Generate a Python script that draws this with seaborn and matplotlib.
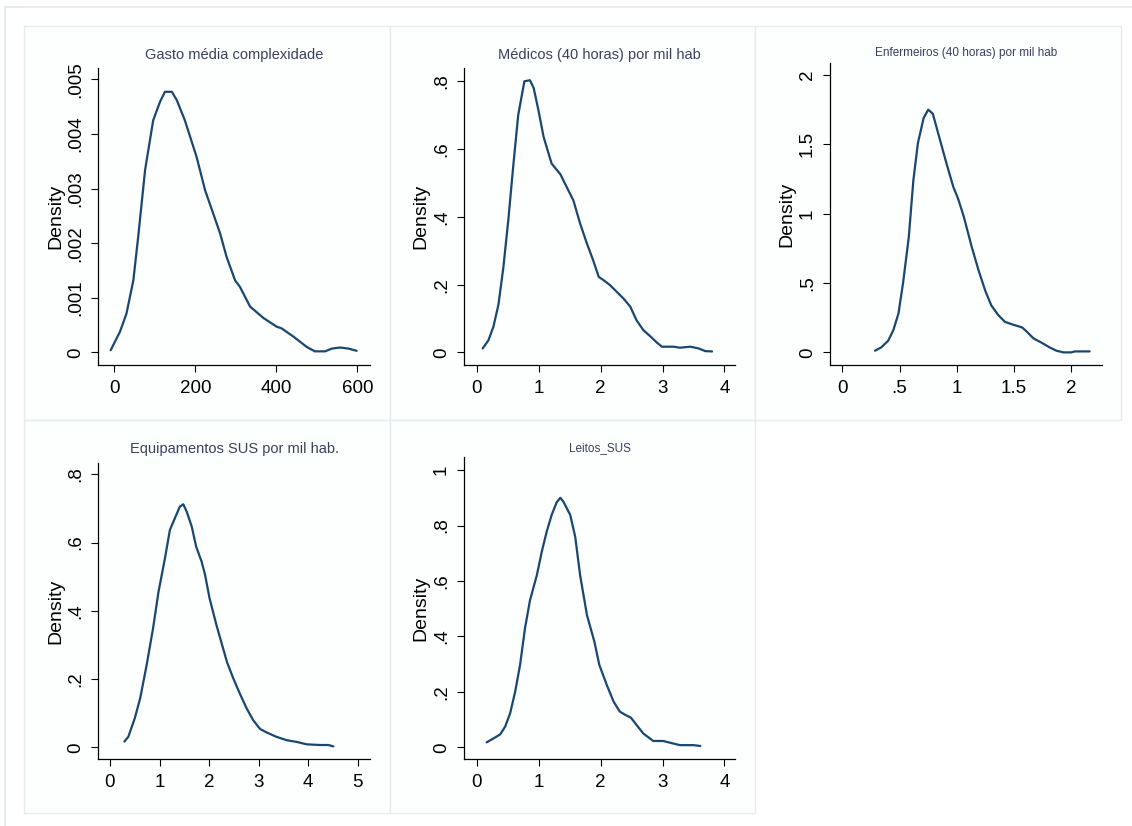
import numpy as np
import pandas as pd
import matplotlib
matplotlib.use("Agg")
import matplotlib.pyplot as plt
from matplotlib.patches import Rectangle
from matplotlib.lines import Line2D
import seaborn as sns

sns.set_theme(style="white")
plt.rcParams["font.family"] = ["Liberation Sans", "DejaVu Sans"]

# Kernel density estimates (x, density) for each indicator
gasto_x = [-9, 14, 30, 47, 59, 76, 96, 113, 125, 142, 154, 174, 203, 224, 261, 277,
           298, 310, 335, 368, 401, 413, 442, 475, 495, 520, 537, 557, 578, 598]
gasto_y = [0.00004, 0.00038, 0.00071, 0.00132, 0.00212, 0.00334, 0.00425, 0.00459,
           0.00477, 0.00477, 0.00462, 0.00425, 0.00358, 0.00297, 0.00218, 0.00175,
           0.00132, 0.00120, 0.00084, 0.00063, 0.00047, 0.00044, 0.00029, 0.00010,
           0.00002, 0.00002, 0.00007, 0.00009, 0.00007, 0.00003]

medicos_x = [0.097, 0.19, 0.27, 0.35, 0.43, 0.51, 0.59, 0.67, 0.72, 0.77, 0.86, 0.92,
             0.996, 1.08, 1.16, 1.21, 1.35, 1.45, 1.56, 1.67, 1.78, 1.88, 1.97, 2.05,
             2.15, 2.26, 2.37, 2.48, 2.58, 2.69, 2.80, 2.91, 2.99, 3.18, 3.28, 3.45,
             3.58, 3.69, 3.80]
medicos_y = [0.012, 0.036, 0.076, 0.14, 0.25, 0.39, 0.55, 0.70, 0.75, 0.80, 0.803, 0.78,
             0.715, 0.636, 0.587, 0.557, 0.526, 0.489, 0.449, 0.380, 0.321, 0.272, 0.223,
             0.213, 0.199, 0.179, 0.159, 0.135, 0.095, 0.066, 0.048, 0.029, 0.017, 0.017,
             0.014, 0.017, 0.012, 0.004, 0.003]

enferm_x = [0.285, 0.34, 0.40, 0.445, 0.49, 0.53, 0.58, 0.62, 0.66, 0.71, 0.75, 0.79,
            0.82, 0.87, 0.91, 0.97, 1.01, 1.06, 1.13, 1.19, 1.25, 1.30, 1.36, 1.42,
            1.49, 1.57, 1.61, 1.67, 1.74, 1.81, 1.87, 1.93, 2.00, 2.03, 2.16]
enferm_y = [0.012, 0.036, 0.084, 0.16, 0.28, 0.50, 0.83, 1.24, 1.51, 1.69, 1.75, 1.72,
            1.63, 1.48, 1.36, 1.19, 1.11, 0.98, 0.76, 0.59, 0.44, 0.34, 0.27, 0.22,
            0.20, 0.18, 0.15, 0.10, 0.07, 0.036, 0.012, 0.0, 0.0, 0.007, 0.007]

equip_x = [0.29, 0.37, 0.50, 0.61, 0.74, 0.87, 0.98, 1.11, 1.21, 1.31, 1.41, 1.48,
           1.55, 1.65, 1.74, 1.85, 1.92, 2.01, 2.15, 2.36, 2.49, 2.62, 2.76, 2.89,
           3.03, 3.16, 3.36, 3.57, 3.77, 3.97, 4.24, 4.41, 4.51]
equip_y = [0.017, 0.031, 0.085, 0.144, 0.241, 0.349, 0.456, 0.554, 0.637, 0.671, 0.705,
           0.712, 0.690, 0.647, 0.588, 0.544, 0.505, 0.437, 0.358, 0.251, 0.202, 0.158,
           0.114, 0.080, 0.054, 0.044, 0.031, 0.021, 0.016, 0.009, 0.007, 0.007, 0.003]

leitos_x = [0.16, 0.27, 0.38, 0.46, 0.54, 0.62, 0.70, 0.78, 0.86, 0.97, 1.05, 1.13,
            1.21, 1.29, 1.35, 1.40, 1.51, 1.59, 1.67, 1.78, 1.90, 1.98, 2.10, 2.21,
            2.31, 2.40, 2.49, 2.58, 2.69, 2.85, 3.01, 3.28, 3.50, 3.61]
leitos_y = [0.018, 0.032, 0.047, 0.075, 0.123, 0.20, 0.297, 0.43, 0.53, 0.62, 0.705,
            0.778, 0.838, 0.883, 0.90, 0.886, 0.838, 0.76, 0.62, 0.477, 0.381, 0.297,
            0.225, 0.165, 0.129, 0.117, 0.107, 0.081, 0.05, 0.023, 0.023, 0.008, 0.008,
            0.005]

titles = ["Gasto média complexidade", "Médicos (40 horas) por mil hab",
          "Enfermeiros (40 horas) por mil hab", "Equipamentos SUS por mil hab.",
          "Leitos_SUS"]
title_sizes = [10.5, 10.5, 8.5, 10.5, 8.5]

xticks = [[0, 200, 400, 600], [0, 1, 2, 3, 4], [0, 0.5, 1, 1.5, 2],
          [0, 1, 2, 3, 4, 5], [0, 1, 2, 3, 4]]
xticklabels = [["0", "200", "400", "600"], ["0", "1", "2", "3", "4"],
               ["0", ".5", "1", "1.5", "2"], ["0", "1", "2", "3", "4", "5"],
               ["0", "1", "2", "3", "4"]]
yticks = [[0, 0.001, 0.002, 0.003, 0.004, 0.005], [0, 0.2, 0.4, 0.6, 0.8],
          [0, 0.5, 1, 1.5, 2], [0, 0.2, 0.4, 0.6, 0.8], [0, 0.2, 0.4, 0.6, 0.8, 1]]
yticklabels = [["0", ".001", ".002", ".003", ".004", ".005"],
               ["0", ".2", ".4", ".6", ".8"], ["0", ".5", "1", "1.5", "2"],
               ["0", ".2", ".4", ".6", ".8"], ["0", ".2", ".4", ".6", ".8", "1"]]

series = [(gasto_x, gasto_y), (medicos_x, medicos_y), (enferm_x, enferm_y),
          (equip_x, equip_y), (leitos_x, leitos_y)]

# Layout in pixels (figure is 1132 x 826 px)
W, H = 1132, 826
panel_boxes = [(24, 26, 390, 420), (390, 26, 755, 420), (755, 26, 1121, 420),
               (24, 420, 390, 813), (390, 420, 755, 813)]
axes_boxes = [(98.3, 68.3, 370, 365), (464, 67.7, 735, 365), (830, 63.3, 1101.7, 365),
              (98.3, 463.3, 370, 759), (464, 457.3, 735, 759)]
xlims = [(-39.5, 631), (-0.205, 4.17), (-0.108, 2.265), (-0.236, 5.25), (-0.205, 4.17)]
ylims = [(-0.00023, 0.0052), (-0.037, 0.84), (-0.091, 2.084), (-0.034, 0.832),
         (-0.042, 1.046)]
title_y = [55, 55, 53, 449, 448]

line_color = "#1a476f"
frame_color = "#e4ecee"

fig = plt.figure(figsize=(W / 100, H / 100), dpi=100)
fig.patch.set_facecolor("white")

# outer frame (top and left edges visible)
fig.add_artist(Line2D([5 / W, 1.0], [1 - 7 / H, 1 - 7 / H], transform=fig.transFigure,
                      color=frame_color, lw=1.5))
fig.add_artist(Line2D([5 / W, 5 / W], [1 - 7 / H, 0], transform=fig.transFigure,
                      color=frame_color, lw=1.5))

for (x0, y0, x1, y1) in panel_boxes:
    fig.add_artist(Rectangle((x0 / W, 1 - y1 / H), (x1 - x0) / W, (y1 - y0) / H,
                             transform=fig.transFigure, facecolor="#fdfefe",
                             edgecolor=frame_color, lw=1.0, zorder=0))

for i, (xs, ys) in enumerate(series):
    x0, y0, x1, y1 = axes_boxes[i]
    ax = fig.add_axes([x0 / W, 1 - y1 / H, (x1 - x0) / W, (y1 - y0) / H])
    ax.patch.set_alpha(0)
    df = pd.DataFrame({"x": xs, "density": ys})
    sns.lineplot(data=df, x="x", y="density", ax=ax, color=line_color, linewidth=1.6)
    ax.set_xlim(*xlims[i])
    ax.set_ylim(*ylims[i])
    ax.set_xticks(xticks[i])
    ax.set_xticklabels(xticklabels[i])
    ax.set_yticks(yticks[i])
    ax.set_yticklabels(yticklabels[i], rotation=90, va="center")
    ax.tick_params(axis="both", which="major", direction="out", length=5, width=0.8,
                   color="black", labelsize=13.5, labelcolor="black", bottom=True, left=True)
    ax.tick_params(axis="x", pad=6)
    ax.tick_params(axis="y", pad=5)
    for s in ["top", "right"]:
        ax.spines[s].set_visible(False)
    for s in ["left", "bottom"]:
        ax.spines[s].set_color("black")
        ax.spines[s].set_linewidth(0.9)
    ax.set_xlabel("")
    ax.set_ylabel("Density", fontsize=14, color="black", labelpad=2.5)
    ax.grid(False)
    cx = (x0 + x1) / 2 / W
    fig.text(cx, 1 - title_y[i] / H, titles[i], ha="center", va="center",
             fontsize=title_sizes[i], color="#3a3f5c")

fig.savefig("out.png", dpi=100)
